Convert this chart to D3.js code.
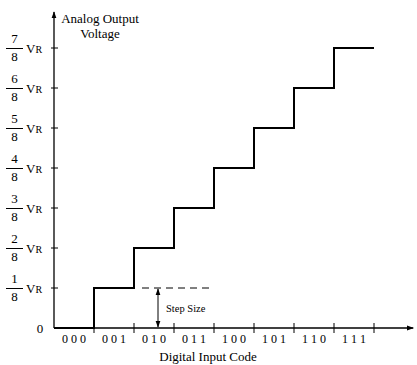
<!DOCTYPE html>
<html>
<head>
<meta charset="utf-8">
<script src="https://cdn.jsdelivr.net/npm/d3@7"></script>
<style>
  body { margin: 0; background: #fff; }
  svg { font-family: "Liberation Serif", "Times New Roman", serif; }
</style>
</head>
<body>
<div id="chart"></div>
<script>
// ---------------- data ----------------
const codes = ["000", "001", "010", "011", "100", "101", "110", "111"];
const levels = [0, 1, 2, 3, 4, 5, 6, 7];
const levelNumerators = ["1", "2", "3", "4", "5", "6", "7"];
const levelDenominator = "8";
const stepSizeLevel = 1;

const width = 417, height = 365;

const svg = d3.select("#chart").append("svg")
  .attr("width", width)
  .attr("height", height);

// x : one unit per code, y : one unit per 1/8 VR
const x = d3.scaleLinear().domain([0, 9]).range([54, 414]);
const y = d3.scaleLinear().domain([0, 8]).range([328, 8]);

const defs = svg.append("defs");
defs.append("marker")
  .attr("id", "arr")
  .attr("viewBox", "0 0 10 10")
  .attr("refX", 9).attr("refY", 5)
  .attr("markerWidth", 7).attr("markerHeight", 7)
  .attr("markerUnits", "userSpaceOnUse")
  .attr("orient", "auto-start-reverse")
  .append("path").attr("d", "M0,1.5 L10,5 L0,8.5 Z").attr("fill", "#000");

// axes lines
svg.append("line")
  .attr("x1", x(0)).attr("y1", y(0))
  .attr("x2", x(0)).attr("y2", y(7.9))
  .attr("stroke", "#000").attr("stroke-width", 1.3)
  .attr("marker-end", "url(#arr)");

svg.append("line")
  .attr("x1", x(0)).attr("y1", y(0))
  .attr("x2", x(8.98)).attr("y2", y(0))
  .attr("stroke", "#000").attr("stroke-width", 1.3)
  .attr("marker-end", "url(#arr)");

// x ticks at code boundaries
svg.append("g").selectAll("line")
  .data(d3.range(1, codes.length + 1))
  .join("line")
  .attr("x1", (d) => x(d)).attr("x2", (d) => x(d))
  .attr("y1", y(0) - 5).attr("y2", y(0) + 5)
  .attr("stroke", "#000").attr("stroke-width", 1);

// x labels, spaced digits
svg.append("g").selectAll("text")
  .data(codes)
  .join("text")
  .attr("x", (d, i) => x(i + 0.5))
  .attr("y", y(0) + 15)
  .attr("text-anchor", "middle")
  .attr("font-size", 12)
  .text((d) => d.split("").join(" "));

svg.append("text")
  .attr("x", 208).attr("y", 361)
  .attr("text-anchor", "middle")
  .attr("font-size", 13)
  .text("Digital Input Code");

// y ticks
svg.append("g").selectAll("line")
  .data(levelNumerators)
  .join("line")
  .attr("x1", x(0) - 3).attr("x2", x(0) + 4)
  .attr("y1", (d) => y(+d)).attr("y2", (d) => y(+d))
  .attr("stroke", "#000").attr("stroke-width", 1);

// y labels : fraction + VR
const yl = svg.append("g").selectAll("g")
  .data(levelNumerators)
  .join("g")
  .attr("transform", (d) => `translate(0,${y(+d)})`);

yl.append("text")
  .attr("x", 14.5).attr("y", -5)
  .attr("text-anchor", "middle")
  .attr("font-size", 13)
  .text((d) => d);
yl.append("line")
  .attr("x1", 6).attr("x2", 23)
  .attr("y1", 0.5).attr("y2", 0.5)
  .attr("stroke", "#000").attr("stroke-width", 1);
yl.append("text")
  .attr("x", 14.5).attr("y", 13)
  .attr("text-anchor", "middle")
  .attr("font-size", 13)
  .text(levelDenominator);
const vr = yl.append("text")
  .attr("x", 26).attr("y", 4.5)
  .attr("font-size", 13);
vr.append("tspan").text("V");
vr.append("tspan").attr("font-size", 10).text("R");

svg.append("text")
  .attr("x", 40).attr("y", y(0) + 5)
  .attr("text-anchor", "middle")
  .attr("font-size", 13)
  .text("0");

// axis title
const title = svg.append("text")
  .attr("text-anchor", "middle")
  .attr("font-size", 13);
title.append("tspan").attr("x", 100).attr("y", 23).text("Analog Output");
title.append("tspan").attr("x", 100).attr("y", 38).text("Voltage");

// staircase
const stairPts = levels.map((l, i) => [i, l]).concat([[codes.length, levels[levels.length - 1]]]);
const stair = d3.line()
  .x((d) => x(d[0]))
  .y((d) => y(d[1]))
  .curve(d3.curveStepAfter);

svg.append("path")
  .datum(stairPts)
  .attr("d", stair)
  .attr("fill", "none")
  .attr("stroke", "#000")
  .attr("stroke-width", 2);

// step size annotation
svg.append("line")
  .attr("x1", x(2.2)).attr("x2", x(3.95))
  .attr("y1", y(stepSizeLevel)).attr("y2", y(stepSizeLevel))
  .attr("stroke", "#000").attr("stroke-width", 1)
  .attr("stroke-dasharray", "7,5");

svg.append("line")
  .attr("x1", x(2.6)).attr("x2", x(2.6))
  .attr("y1", y(stepSizeLevel) + 1).attr("y2", y(0) - 1)
  .attr("stroke", "#000").attr("stroke-width", 1)
  .attr("marker-start", "url(#arr)")
  .attr("marker-end", "url(#arr)");

svg.append("text")
  .attr("x", x(2.6) + 8).attr("y", y(stepSizeLevel / 2) + 3.5)
  .attr("font-size", 10.5)
  .text("Step Size");
</script>
</body>
</html>
